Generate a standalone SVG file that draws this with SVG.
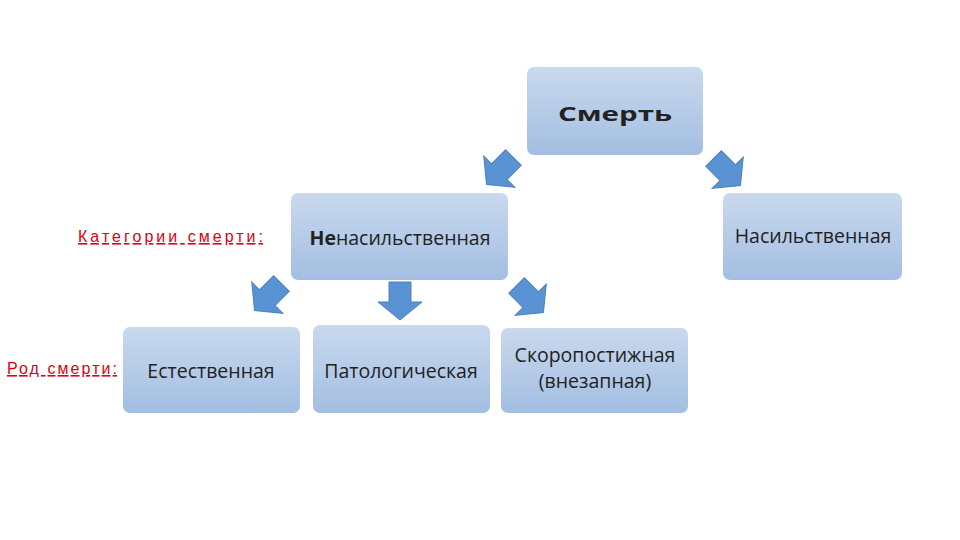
<svg xmlns="http://www.w3.org/2000/svg" width="960" height="540" viewBox="0 0 960 540">
<defs>
<linearGradient id="g" x1="0" y1="0" x2="0" y2="1"><stop offset="0" stop-color="#c9d9ee"/><stop offset="1" stop-color="#a3bee2"/></linearGradient>
<path id="arr" d="M-11,-19 H11 V1 H22 L0,19 L-22,1 H-11 Z"/>
<style>
.box{fill:url(#g);}
.t{font-family:"Open Sans","Liberation Sans",sans-serif;font-size:19.5px;fill:#222;text-anchor:middle;}
.a{fill:#5a93d4;stroke:#4a80c0;stroke-width:1;}
.r{font-family:"Liberation Sans",Arial,sans-serif;font-size:16px;fill:#e00012;text-decoration:underline;}
</style>
</defs>
<rect width="960" height="540" fill="#fff"/>
<g id="connectors">
<use href="#arr" class="a" transform="translate(500,171) rotate(45)"/>
<use href="#arr" class="a" transform="translate(727,172) rotate(-45)"/>
<use href="#arr" class="a" transform="translate(268,297) rotate(45)"/>
<use href="#arr" class="a" transform="translate(400,301)"/>
<use href="#arr" class="a" transform="translate(530,299) rotate(-45)"/>
</g>
<g id="n-death"><rect class="box" x="527" y="67" width="176" height="88" rx="7"/><text class="t" x="615" y="121" font-weight="bold" font-size="25" textLength="114" lengthAdjust="spacingAndGlyphs">Смерть</text></g>
<g id="n-nonviolent"><rect class="box" x="291" y="193" width="217" height="87" rx="7"/><text class="t" x="400" y="245"><tspan font-weight="bold">Не</tspan>насильственная</text></g>
<g id="n-violent"><rect class="box" x="723" y="193" width="179" height="87" rx="7"/><text class="t" x="813" y="243" font-size="14">Насильственная</text></g>
<g id="n-natural"><rect class="box" x="123" y="327" width="177" height="86" rx="7"/><text class="t" x="211" y="378">Естественная</text></g>
<g id="n-pathological"><rect class="box" x="313" y="325" width="177" height="88" rx="7"/><text class="t" x="401" y="378">Патологическая</text></g>
<g id="n-sudden"><rect class="box" x="501" y="328" width="187" height="85" rx="7"/><text class="t" x="595" y="362">Скоропостижная</text><text class="t" x="595" y="388">(внезапная)</text></g>
<g id="labels">
<text class="r" x="78" y="242" textLength="185">Категории смерти:</text>
<text class="r" x="7" y="374" textLength="110">Род смерти:</text>
</g>
</svg>
